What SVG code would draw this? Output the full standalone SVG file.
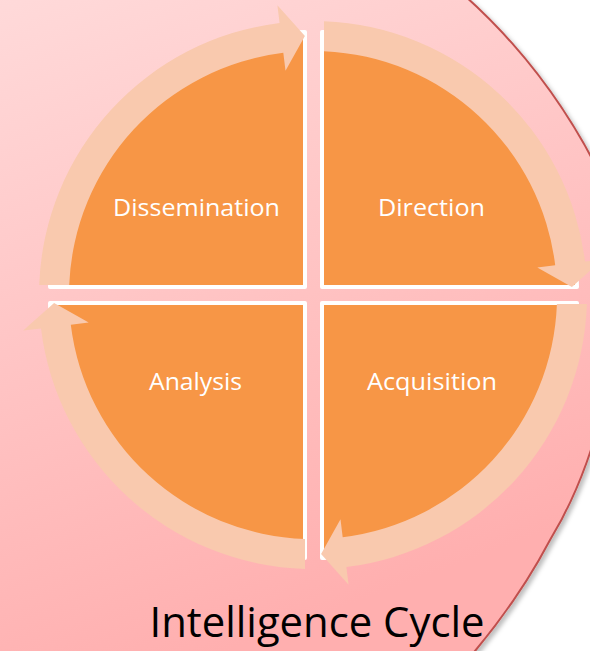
<svg xmlns="http://www.w3.org/2000/svg" width="590" height="651" viewBox="0 0 590 651">
  <defs>
    <linearGradient id="bg" x1="0" y1="0" x2="0.35" y2="1">
      <stop offset="0" stop-color="#FFDADA"/>
      <stop offset="1" stop-color="#FFAFAF"/>
    </linearGradient>
    <filter id="sh" x="-10%" y="-10%" width="130%" height="130%">
      <feDropShadow dx="3" dy="3" stdDeviation="2" flood-color="#000" flood-opacity="0.25"/>
    </filter>
  </defs>
  <style>
    .quad { fill: #F79646; stroke: #FFFFFF; stroke-width: 4; stroke-linejoin: round; }
    .ring { fill: #F9C9AE; }
    .lbl { font-family: "Open Sans", "Liberation Sans", sans-serif; font-size: 24.5px; fill: #FFFFFF; text-anchor: middle; }
    .title { font-family: "Open Sans", "Liberation Sans", sans-serif; font-size: 42px; fill: #000000; text-anchor: middle; }
  </style>
  <rect x="0" y="0" width="590" height="651" fill="#FFFFFF"/>
  <g id="background">
    <path d="M-5,-5 L464,-5 C520,45 565,105 598,170 C640,300 605,450 550,540 C530,578 505,615 475,651 L471,656 L-5,656 Z" fill="url(#bg)" stroke="#C0504D" stroke-width="2" filter="url(#sh)"/>
  </g>
  <g id="node-dissemination">
    <path class="quad" d="M305,287 L50,287 A255 255 0 0 1 305,32 Z"/>
  </g>
  <g id="node-direction">
    <path class="quad" d="M322,287 L322,32 A255 255 0 0 1 577,287 Z"/>
  </g>
  <g id="node-acquisition">
    <path class="quad" d="M322,303 L577,303 A255 255 0 0 1 322,558 Z"/>
  </g>
  <g id="node-analysis">
    <path class="quad" d="M305,303 L305,558 A255 255 0 0 1 50,303 Z"/>
  </g>
  <g id="connectors">
    <path class="ring" d="M39.2,285 A274 274 0 0 1 279.6,23.0 L277.4,5.2 L304.9,36.1 L285.5,70.7 L283.3,52.8 A244 244 0 0 0 69.2,285 Z"/>
    <path class="ring" d="M324,21.2 A274 274 0 0 1 585.0,261.6 L602.8,259.4 L571.9,286.9 L537.3,267.5 L555.2,265.3 A244 244 0 0 0 324,51.2 Z"/>
    <path class="ring" d="M586.9,304 A274 274 0 0 1 346.4,567.0 L348.6,584.8 L321.1,553.9 L340.5,519.3 L342.7,537.2 A244 244 0 0 0 556.9,304 Z"/>
    <path class="ring" d="M305,568.9 A274 274 0 0 1 41.0,328.4 L23.2,330.6 L54.1,303.1 L88.7,322.5 L70.8,324.7 A244 244 0 0 0 305,538.9 Z"/>
  </g>
  <g id="labels">
    <text class="lbl" x="196.5" y="216" textLength="167" lengthAdjust="spacingAndGlyphs">Dissemination</text>
    <text class="lbl" x="431.5" y="216" textLength="107" lengthAdjust="spacingAndGlyphs">Direction</text>
    <text class="lbl" x="195.5" y="390" textLength="93" lengthAdjust="spacingAndGlyphs">Analysis</text>
    <text class="lbl" x="432" y="390" textLength="130" lengthAdjust="spacingAndGlyphs">Acquisition</text>
  </g>
  <g id="title">
    <text class="title" x="317" y="637" textLength="335" lengthAdjust="spacingAndGlyphs">Intelligence Cycle</text>
  </g>
</svg>
